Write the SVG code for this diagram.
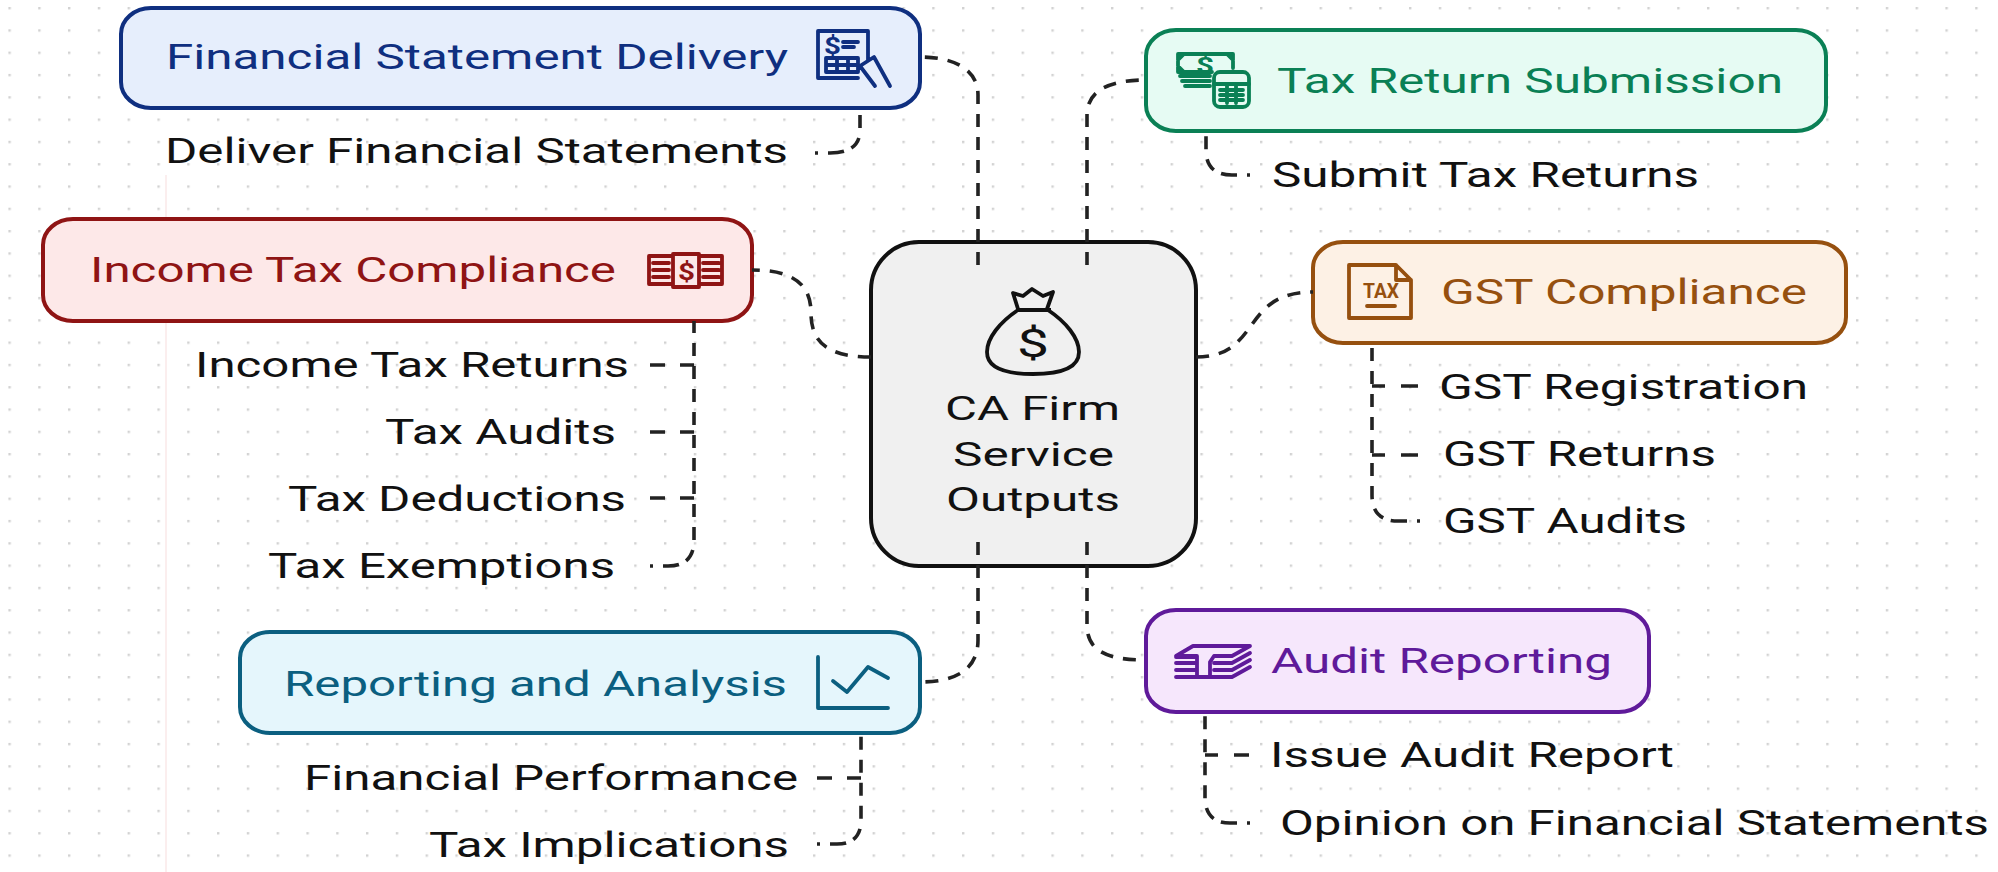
<svg xmlns="http://www.w3.org/2000/svg" width="1998" height="872" viewBox="0 0 1998 872">
<style>
text{font-family:Roboto,"Liberation Sans",sans-serif;font-size:35px;fill:#111}
.c{font-size:33px}
.box{stroke-width:4}
.conn{fill:none;stroke:#222;stroke-width:3.6;stroke-dasharray:13 10}
.tail{stroke-dasharray:3 10 16 8 13 10 13 10 13 10 13 10 13 10 13 10 13 10 13 10 13 10 13 10 13 10 13 10 13 10 13 10 13 10 13 10}
.bl{stroke-dasharray:15 15 14 100}
.br{stroke-dasharray:13 16 17 100}
.ic{fill:none;stroke-width:3.8;stroke-linecap:round;stroke-linejoin:round}
.blue{stroke:#0f2f80;fill:#0f2f80}.green{stroke:#0a8055;fill:#0a8055}.orange{stroke:#96500f;fill:#96500f}.red{stroke:#8f1414;fill:#8f1414}.teal{stroke:#0b5f80;fill:#0b5f80}.purple{stroke:#5f1a9a;fill:#5f1a9a}
text.blue,text.green,text.orange,text.red,text.teal,text.purple{stroke:none}
.ic.blue,.ic.green,.ic.orange,.ic.red,.ic.teal,.ic.purple{fill:none}
.it{font-weight:700;stroke:none}
</style>
<defs>
<pattern id="dots" width="29.8" height="22.3" patternUnits="userSpaceOnUse" x="8.4" y="7">
<rect x="0" y="0" width="2.4" height="2.4" fill="#d2d2d2"/>
</pattern>
</defs>
<rect width="1998" height="872" fill="#fff"/>
<rect width="1998" height="872" fill="url(#dots)"/>
<rect x="165" y="175" width="2" height="697" fill="#fbeeee"/>

<g id="center">
<rect x="871" y="242" width="325" height="324" rx="48" ry="48" fill="#f0f0f0" stroke="#111" class="box"/>
<path d="M1018 310C1000 322 987 338 987 352C987 368 1005 374 1033 374C1061 374 1079 368 1079 352C1079 338 1066 322 1048 310Z" fill="none" stroke="#111" stroke-width="3.8"/>
<path d="M1018 309L1013 293L1023 296L1032 289L1043 296L1053 292L1047 309M1016 310H1051" fill="none" stroke="#111" stroke-width="3.8" stroke-linejoin="round"/>
<text x="1017" y="357" textLength="32" lengthAdjust="spacingAndGlyphs" style="font-size:39px">$</text>
<text class="c" x="945" y="420" textLength="175" lengthAdjust="spacingAndGlyphs">CA Firm</text>
<text class="c" x="953" y="466" textLength="161" lengthAdjust="spacingAndGlyphs">Service</text>
<text class="c" x="946" y="511" textLength="174" lengthAdjust="spacingAndGlyphs">Outputs</text>
</g>

<g id="financial-statement-delivery">
<rect x="121" y="8" width="799" height="100" rx="30" ry="26" fill="#e6eefc" stroke="#0f2f80" class="box"/>
<text class="blue" x="166" y="69" textLength="622" lengthAdjust="spacingAndGlyphs">Financial Statement Delivery</text>
<path class="ic blue" d="M858 78H818V31H868V60M826 58H858V72H826ZM837 58V72M848 58V72M826 65H856M860 66L874 57L890 86M860 66L875 86M843 42H858M843 47H854"/>
<text class="it blue" x="824" y="54" textLength="17" lengthAdjust="spacingAndGlyphs" style="font-size:23px">$</text>
</g>
<g id="deliver-financial-statements"><text x="165" y="163" textLength="623" lengthAdjust="spacingAndGlyphs">Deliver Financial Statements</text></g>

<g id="tax-return-submission">
<rect x="1146" y="30" width="680" height="101" rx="30" ry="26" fill="#e6fbf3" stroke="#0a8055" class="box"/>
<text class="green" x="1277" y="93" textLength="506" lengthAdjust="spacingAndGlyphs">Tax Return Submission</text>
<path class="ic green" d="M1212 72H1178V54H1233V68M1184 54L1178 60M1227 54L1233 60M1178 66L1184 72M1180 76H1210M1182 81H1210M1185 86H1210"/>
<rect class="ic green" x="1214" y="72" width="35" height="35" rx="6"/>
<path class="ic green" d="M1214 84H1249M1220 90H1243M1220 95H1243M1220 100H1243M1227 86V103M1236 86V103" stroke-width="2.8"/>
<text class="it green" x="1196" y="73" textLength="18" lengthAdjust="spacingAndGlyphs" style="font-size:22px">$</text>
</g>
<g id="submit-tax-returns"><text x="1272" y="187" textLength="427" lengthAdjust="spacingAndGlyphs">Submit Tax Returns</text></g>

<g id="gst-compliance">
<rect x="1313" y="242" width="533" height="101" rx="30" ry="26" fill="#fdf1e5" stroke="#96500f" class="box"/>
<text class="orange" x="1441" y="304" textLength="366" lengthAdjust="spacingAndGlyphs">GST Compliance</text>
<path class="ic orange" d="M1396 265H1349V318H1411V280ZM1396 265V280H1411M1367 306H1395"/>
<text class="it orange" x="1363" y="298" textLength="36" lengthAdjust="spacingAndGlyphs" style="font-size:21px">TAX</text>
</g>
<g id="gst-registration"><text x="1439" y="399" textLength="369" lengthAdjust="spacingAndGlyphs">GST Registration</text></g>
<g id="gst-returns"><text x="1443" y="466" textLength="273" lengthAdjust="spacingAndGlyphs">GST Returns</text></g>
<g id="gst-audits"><text x="1443" y="533" textLength="244" lengthAdjust="spacingAndGlyphs">GST Audits</text></g>

<g id="income-tax-compliance">
<rect x="43" y="219" width="709" height="102" rx="30" ry="26" fill="#fde8e8" stroke="#8f1414" class="box"/>
<text class="red" x="90" y="282" textLength="526" lengthAdjust="spacingAndGlyphs">Income Tax Compliance</text>
<path class="ic red" d="M672 256H649V284H672M700 256H722V284H700M673 254H699V287H673ZM653 263H669M653 270H669M653 277H669M703 263H719M703 270H719M703 277H719"/>
<text class="it red" x="678" y="280" textLength="17" lengthAdjust="spacingAndGlyphs" style="font-size:24px">$</text>
</g>
<g id="income-tax-returns"><text x="195" y="377" textLength="434" lengthAdjust="spacingAndGlyphs">Income Tax Returns</text></g>
<g id="tax-audits"><text x="385" y="444" textLength="231" lengthAdjust="spacingAndGlyphs">Tax Audits</text></g>
<g id="tax-deductions"><text x="288" y="511" textLength="338" lengthAdjust="spacingAndGlyphs">Tax Deductions</text></g>
<g id="tax-exemptions"><text x="268" y="578" textLength="347" lengthAdjust="spacingAndGlyphs">Tax Exemptions</text></g>

<g id="reporting-and-analysis">
<rect x="240" y="632" width="680" height="101" rx="30" ry="26" fill="#e5f6fc" stroke="#0b5f80" class="box"/>
<text class="teal" x="284" y="696" textLength="503" lengthAdjust="spacingAndGlyphs">Reporting and Analysis</text>
<path class="ic teal" d="M818 657V708H888M833 681L847 692L868 667L888 678" stroke-width="4"/>
</g>
<g id="financial-performance"><text x="304" y="790" textLength="494" lengthAdjust="spacingAndGlyphs">Financial Performance</text></g>
<g id="tax-implications"><text x="429" y="857" textLength="360" lengthAdjust="spacingAndGlyphs">Tax Implications</text></g>

<g id="audit-reporting">
<rect x="1146" y="610" width="503" height="102" rx="30" ry="26" fill="#f6e7fc" stroke="#5f1a9a" class="box"/>
<text class="purple" x="1271" y="673" textLength="341" lengthAdjust="spacingAndGlyphs">Audit Reporting</text>
<path class="ic purple" d="M1176 656L1193 646H1250L1232 656H1214L1210 662V677H1197V656ZM1176 657H1196M1176 663H1196M1176 670H1196M1176 677H1232L1250 667M1214 663H1232L1250 653M1214 670H1232L1250 660" stroke-width="3.2"/>
</g>
<g id="issue-audit-report"><text x="1270" y="767" textLength="404" lengthAdjust="spacingAndGlyphs">Issue Audit Report</text></g>
<g id="opinion-on-financial-statements"><text x="1280" y="835" textLength="709" lengthAdjust="spacingAndGlyphs">Opinion on Financial Statements</text></g>

<g id="connectors">
<path class="conn" d="M978 265V95C978 70 955 57 920 57"/>
<path class="conn" d="M1087 265V115C1087 90 1110 80 1146 80"/>
<path class="conn" d="M871 357C825 357 811 340 811 313C811 290 800 270 752 270"/>
<path class="conn" d="M1196 357C1262 357 1240 292 1313 292"/>
<path class="conn" d="M978 542V640C978 670 955 682 920 682"/>
<path class="conn" d="M1087 542V625C1087 650 1105 660 1146 660"/>
<path class="conn tail" d="M815 153H830Q860 153 860 130V108"/>
<path class="conn tail" d="M1250 175H1232Q1206 175 1206 150V131"/>
<path class="conn tail" d="M1420 521H1398Q1372 521 1372 495V343"/>
<path class="conn br" d="M1372 386H1418"/>
<path class="conn br" d="M1372 455H1418"/>
<path class="conn tail" d="M650 566H668Q694 566 694 540V321"/>
<path class="conn bl" d="M650 365H694"/>
<path class="conn bl" d="M650 432H694"/>
<path class="conn bl" d="M650 498H694"/>
<path class="conn tail" d="M817 844H837Q861 844 861 820V733"/>
<path class="conn bl" d="M817 778H861"/>
<path class="conn tail" d="M1250 823H1230Q1205 823 1205 797V712"/>
<path class="conn br" d="M1205 755H1249"/>
</g>
</svg>
